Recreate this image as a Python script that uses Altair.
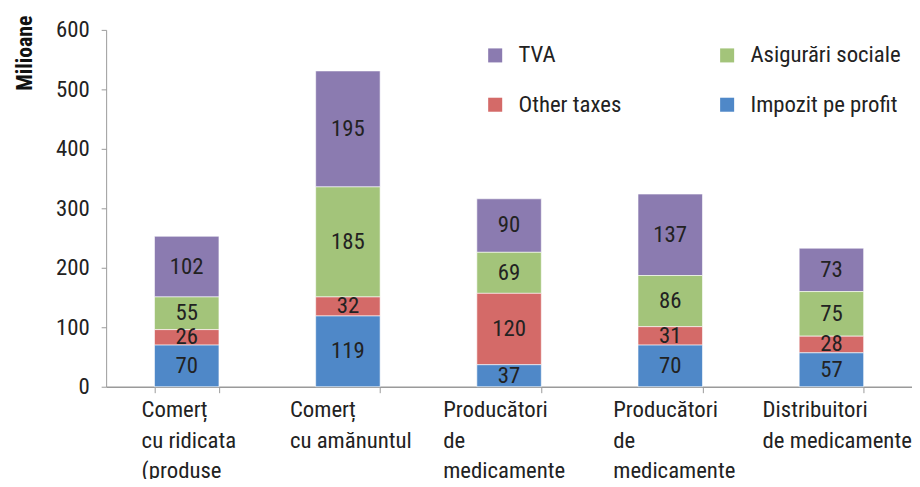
import altair as alt
import pandas as pd

cat_ids = ["C1", "C2", "C3", "C4", "C5"]
cat_labels = [
    ["Comerț", "cu ridicata", "(produse"],
    ["Comerț", "cu amănuntul"],
    ["Producători", "de", "medicamente"],
    ["Producători", "de", "medicamente"],
    ["Distribuitori", "de medicamente"],
]
label_shift = [-46, -59, -67, -58, -70]

series = ["TVA", "Asigurări sociale", "Other taxes", "Impozit pe profit"]
stack_order = [4, 3, 2, 1]
colors = ["#8B7BB0", "#A3C47A", "#D46A68", "#4F88C8"]

impozit = [70, 119, 37, 70, 57]
other = [26, 32, 120, 31, 28]
asig = [55, 185, 69, 86, 75]
tva = [102, 195, 90, 137, 73]

values = {"TVA": tva, "Asigurări sociale": asig, "Other taxes": other, "Impozit pe profit": impozit}

rows = []
for s, o in zip(series, stack_order):
    for c, v in zip(cat_ids, values[s]):
        rows.append({"cat": c, "series": s, "value": v, "ord": o})
df = pd.DataFrame(rows)

label_map = "{" + ",".join(
    "'%s':[%s]" % (c, ",".join("'%s'" % l for l in lines)) for c, lines in zip(cat_ids, cat_labels)
) + "}"

offset_cond = {
    "condition": [{"test": "datum.value === '%s'" % c, "value": s} for c, s in zip(cat_ids, label_shift)],
    "value": -60,
}

FONT = "Roboto Condensed, Liberation Sans Narrow, DejaVu Sans Condensed, Liberation Sans"
FS = 23

x = alt.X(
    "cat:N",
    sort=cat_ids,
    title=None,
    scale=alt.Scale(paddingInner=0.6, paddingOuter=0.3),
    axis=alt.Axis(
        labelExpr=label_map + "[datum.value]",
        labelAngle=0,
        labelAlign="left",
        labelBaseline="top",
        labelOffset=offset_cond,
        labelPadding=6,
        labelFontSize=FS,
        labelLineHeight=31,
        labelColor="#222222",
        labelFont=FONT,
        tickBand="extent",
        tickSize=6,
        tickColor="#9a9a9a",
        domainColor="#9a9a9a",
        domainWidth=1.5,
        labelLimit=300,
    ),
)

y = alt.Y(
    "value:Q",
    stack="zero",
    scale=alt.Scale(domain=[0, 600]),
    axis=alt.Axis(
        values=[0, 100, 200, 300, 400, 500, 600],
        title="Milioane",
        titleFont=FONT,
        titleFontSize=22,
        titleFontWeight="bold",
        titleColor="#111111",
        titleAnchor="end",
        titleAngle=270,
        titleX=-82,
        titleY=-15,
        titleBaseline="middle",
        labelFontSize=FS,
        labelFont=FONT,
        labelColor="#222222",
        labelPadding=12,
        tickSize=5,
        tickColor="#9a9a9a",
        domainColor="#9a9a9a",
        grid=False,
    ),
)

color = alt.Color(
    "series:N",
    scale=alt.Scale(domain=series, range=colors),
    legend=alt.Legend(
        title=None,
        orient="none",
        direction="horizontal",
        legendX=381,
        legendY=14,
        columns=2,
        columnPadding=95,
        rowPadding=26,
        symbolType="square",
        symbolSize=200,
        symbolStrokeWidth=0,
        labelFontSize=FS,
        labelFont=FONT,
        labelColor="#222222",
        labelOffset=12,
        labelLimit=300,
    ),
)

bars = alt.Chart(df).mark_bar(stroke="white", strokeWidth=0.6).encode(
    x=x, y=y, color=color, order=alt.Order("ord:Q")
)

texts = alt.Chart(df).mark_text(
    fontSize=FS, font=FONT, color="#222222", baseline="middle"
).encode(
    x=alt.X("cat:N", sort=cat_ids),
    y=alt.Y("value:Q", stack="zero", bandPosition=0.5),
    text="value:Q",
    order=alt.Order("ord:Q"),
)

chart = (
    alt.layer(bars, texts)
    .properties(
        width=813,
        height=360,
        autosize=alt.AutoSizeParams(type="none"),
        padding={"left": 99, "top": 20, "right": 0, "bottom": 91},
    )
    .configure_view(stroke=None)
)

chart.save("out.html", embed_options={"renderer": "svg", "actions": False})
